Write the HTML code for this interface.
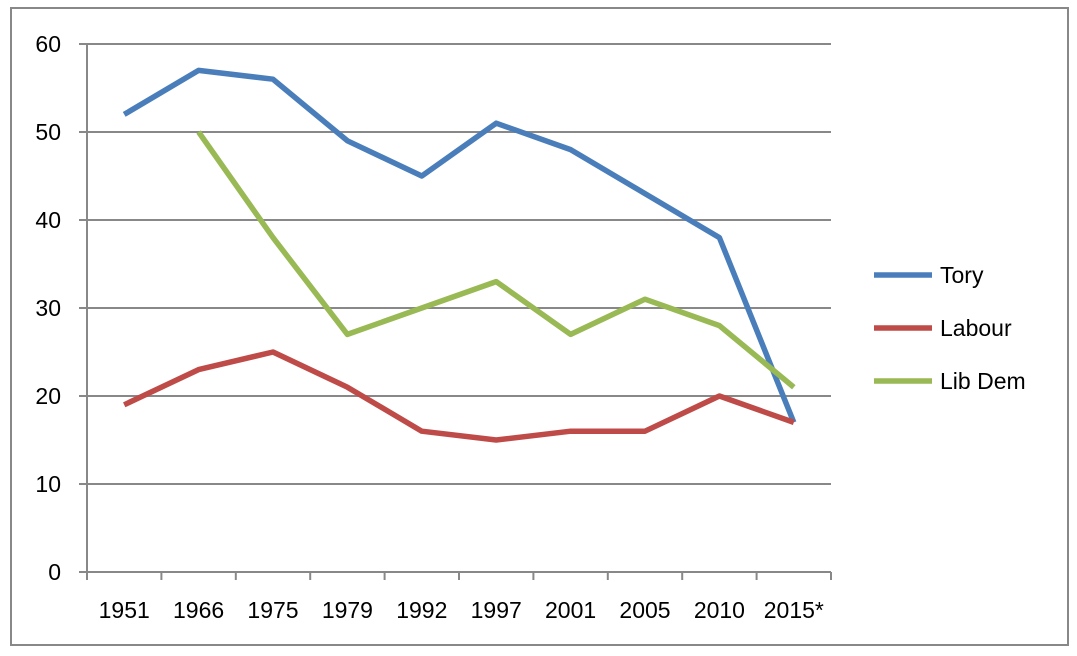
<!DOCTYPE html>
<html><head><meta charset="utf-8"><style>
body{margin:0;background:#fff;}
svg{display:block;font-family:"Liberation Sans",sans-serif;}
</style></head><body>
<svg id="chart" width="1077" height="656">
<rect x="11" y="8" width="1057" height="637" fill="#fff" stroke="#888" stroke-width="2"/>
<g id="grid"></g><g id="axes"></g><g id="series"></g><g id="legend"></g>
</svg>
<script>
const categories=["1951","1966","1975","1979","1992","1997","2001","2005","2010","2015*"];
const tory=[52,57,56,49,45,51,48,43,38,17];
const labour=[19,23,25,21,16,15,16,16,20,17];
const libdem=[null,50,38,27,30,33,27,31,28,21];
const yTicks=[0,10,20,30,40,50,60];
const seriesNames=["Tory","Labour","Lib Dem"];
const NS="http://www.w3.org/2000/svg";
const X0=87,X1=831,Y0=572,Y1=44;
const bw=(X1-X0)/categories.length;
const xs=i=>X0+bw*(i+0.5);
const ys=v=>Y0-(v/60)*(Y0-Y1);
function mk(tag,attrs,parent){const e=document.createElementNS(NS,tag);for(const k in attrs)e.setAttribute(k,attrs[k]);parent.appendChild(e);return e;}
const grid=document.getElementById('grid'),axes=document.getElementById('axes'),ser=document.getElementById('series'),leg=document.getElementById('legend');
yTicks.forEach(t=>{
  if(t>0){const g=mk('line',{x1:X0,x2:X1,y1:ys(t),y2:ys(t),stroke:'#888','stroke-width':2},grid);
  
  }
  const tk=mk('line',{x1:X0-8,x2:X0,y1:ys(t),y2:ys(t),stroke:'#888','stroke-width':2},axes);
  
  
  const tx=mk('text',{x:61,y:ys(t)+8,'text-anchor':'end','font-size':23,fill:'#000'},axes);
  tx.textContent=t;
  
  
});
const ya=mk('line',{x1:X0,x2:X0,y1:Y1,y2:Y0,stroke:'#888','stroke-width':2},axes);


const xa=mk('line',{x1:X0,x2:X1,y1:Y0,y2:Y0,stroke:'#888','stroke-width':2},axes);


for(let i=0;i<=categories.length;i++){
  const tk=mk('line',{x1:X0+bw*i,x2:X0+bw*i,y1:Y0,y2:Y0+8,stroke:'#888','stroke-width':2},axes);
  
  
}
categories.forEach((c,i)=>{
  const tx=mk('text',{x:xs(i),y:618,'text-anchor':'middle','font-size':23,fill:'#000'},axes);
  tx.textContent=c;
  
  
});
const all=[tory,labour,libdem],cols=["#4a7ebb","#be4b48","#98b954"];
all.forEach((d,s)=>{
  let p='';d.forEach((v,i)=>{if(v==null)return;p+=(p?'L':'M')+xs(i)+','+ys(v);});
  const pl=mk('path',{d:p,fill:'none',stroke:cols[s],'stroke-width':5.5,'stroke-linejoin':'round'},ser);
  
  
  const ly=275+s*53;
  const ll=mk('line',{x1:874,x2:932,y1:ly,y2:ly,stroke:cols[s],'stroke-width':5.5},leg);
  
  
  const lt=mk('text',{x:940,y:ly+8,'font-size':23,fill:'#000'},leg);
  lt.textContent=seriesNames[s];
  
  
});
</script>
</body></html>
